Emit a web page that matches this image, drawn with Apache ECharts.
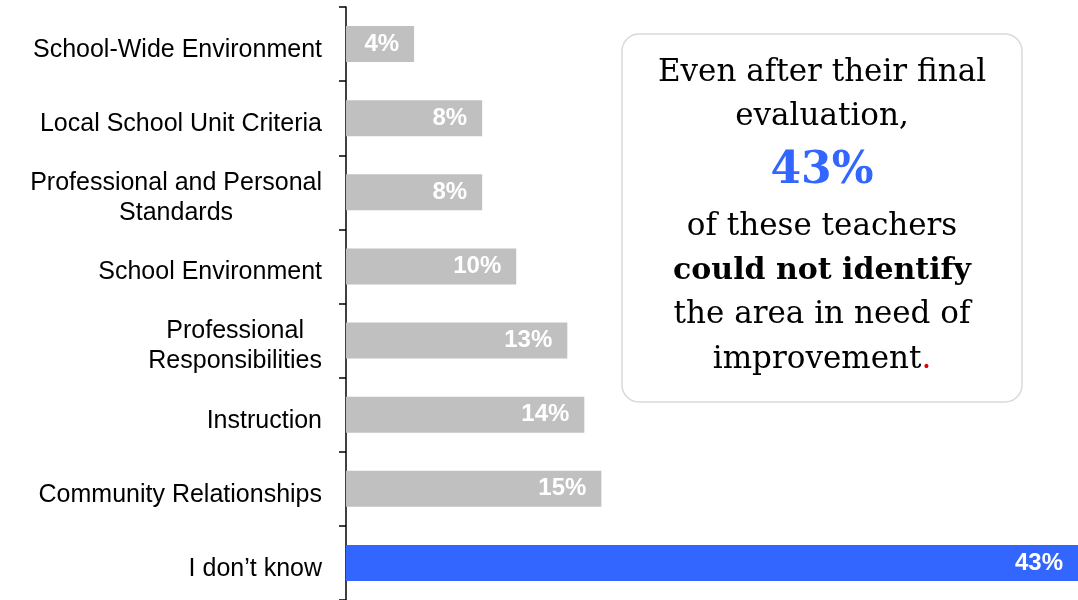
<!DOCTYPE html>
<html>
<head>
<meta charset="utf-8">
<title>Area in need of improvement</title>
<script src="https://cdn.jsdelivr.net/npm/echarts@6/dist/echarts.min.js"></script>
<style>
  html, body { margin: 0; padding: 0; background: #fff; }
  #chart { width: 1078px; height: 600px; }
</style>
</head>
<body>
<div id="chart"></div>
<script>
// Areas named by teachers as needing improvement (share of responses, %)
const categories = [
  'School-Wide Environment',
  'Local School Unit Criteria',
  'Professional and Personal\nStandards',
  'School Environment',
  'Professional\nResponsibilities',
  'Instruction',
  'Community Relationships',
  'I don\u2019t know'
];
const values = [4, 8, 8, 10, 13, 14, 15, 43];
const highlightCategory = 'I don\u2019t know';

// Call-out text, one entry per line
const calloutLines = [
  'Even after their final',
  'evaluation,',
  '43%',
  'of these teachers',
  'could not identify',
  'the area in need of',
  'improvement'
];

const GRAY = '#c0c0c0';
const BLUE = '#3366ff';
const SANS = '"Liberation Sans", Arial, sans-serif';
const SERIF = '"DejaVu Serif", "Liberation Serif", serif';

const chart = echarts.init(document.getElementById('chart'));

const calloutY = [73, 117, 172, 227, 271, 315, 360];
const calloutCenterX = 822;

function calloutText(i) {
  const base = {
    x: calloutCenterX,
    y: calloutY[i],
    align: 'center',
    verticalAlign: 'middle',
    fill: '#000',
    fontFamily: SERIF,
    fontSize: 31
  };
  if (i === 2) {
    return Object.assign(base, { text: calloutLines[i], fill: BLUE, fontWeight: 'bold', fontSize: 44 });
  }
  if (i === 4) {
    return Object.assign(base, { text: calloutLines[i], fontWeight: 'bold', fontSize: 30 });
  }
  if (i === 6) {
    return Object.assign(base, {
      text: '{n|' + calloutLines[i] + '}{r|.}',
      rich: {
        n: { fill: '#000', fontFamily: SERIF, fontSize: 31 },
        r: { fill: '#e00000', fontFamily: SERIF, fontSize: 31 }
      }
    });
  }
  return Object.assign(base, { text: calloutLines[i] });
}

const graphics = [{
  type: 'rect',
  shape: { x: 622, y: 34, width: 400, height: 368, r: 17 },
  style: { fill: '#fff', stroke: '#d9d9d9', lineWidth: 1.5 },
  z: 10
}];
calloutLines.forEach(function (_, i) {
  graphics.push({ type: 'text', style: calloutText(i), z: 11 });
});

chart.setOption({
  animation: false,
  backgroundColor: '#fff',
  grid: { left: 346, top: 7, height: 600, right: 0, containLabel: false },
  xAxis: {
    type: 'value',
    min: 0,
    max: 43,
    show: false
  },
  yAxis: {
    type: 'category',
    data: categories,
    inverse: true,
    axisLine: { show: true, lineStyle: { color: '#000', width: 1.5 } },
    axisTick: { show: true, length: 7, alignWithLabel: false, lineStyle: { color: '#000', width: 1.5 } },
    splitLine: { show: false },
    axisLabel: {
      margin: 24,
      color: '#000',
      fontFamily: SANS,
      fontSize: 25,
      lineHeight: 30,
      padding: [12, 0, 0, 0],
      formatter: function (v) {
        return v.split('\n').map(function (s) { return '{c|' + s + '}'; }).join('\n');
      },
      rich: {
        c: { align: 'center', fontFamily: SANS, fontSize: 25, lineHeight: 30, color: '#000' }
      }
    }
  },
  series: [{
    type: 'bar',
    data: values,
    barWidth: 36,
    itemStyle: {
      color: function (p) { return p.name === highlightCategory ? BLUE : GRAY; }
    },
    label: {
      show: true,
      position: 'insideRight',
      distance: 15,
      color: '#fff',
      fontFamily: SANS,
      fontWeight: 'bold',
      fontSize: 24,
      formatter: '{c}%'
    }
  }],
  graphic: graphics
});
</script>
</body>
</html>
